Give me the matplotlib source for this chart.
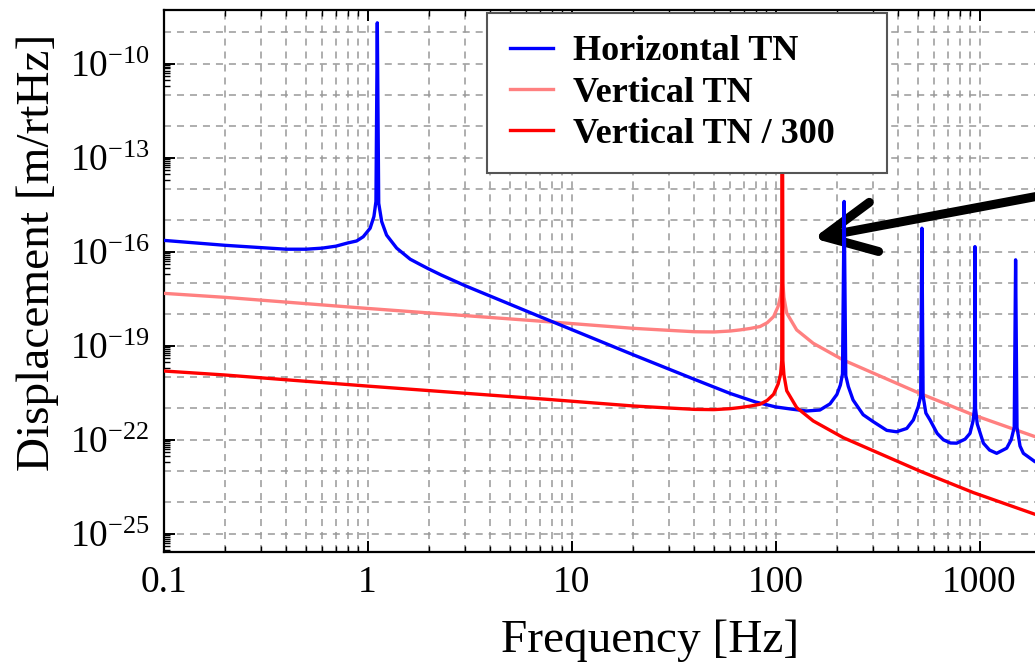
import math
import matplotlib
matplotlib.use('Agg')
import matplotlib.pyplot as plt
from matplotlib.ticker import FixedLocator, FuncFormatter, NullFormatter, LogLocator

plt.rcParams['font.family'] = ['Liberation Serif', 'DejaVu Serif']
plt.rcParams['mathtext.fontset'] = 'custom'
plt.rcParams['mathtext.rm'] = 'Liberation Serif'
plt.rcParams['mathtext.it'] = 'Liberation Serif:italic'
plt.rcParams['mathtext.bf'] = 'Liberation Serif:bold'

# ---------------- data ----------------
horiz_freq = [0.1, 0.2, 0.3, 0.4, 0.5, 0.6, 0.7, 0.8, 0.885, 0.953, 1.03, 1.075, 1.10,
              1.117, 1.135, 1.174, 1.24, 1.39, 1.62, 1.8, 2.0, 2.3, 2.6, 3.0, 5.0, 7.0, 10,
              20, 40, 60, 80, 100, 120, 142, 165, 185, 200, 208, 213, 217, 221, 227.5, 240,
              269, 301, 351, 392, 440, 474, 501, 515, 522, 529, 546, 572, 620, 665, 720, 773,
              850, 898, 930, 945, 950, 956, 975, 1045, 1120, 1214, 1359, 1430, 1480, 1503,
              1527, 1580, 1641, 1871, 2100]
horiz_tn = [2.3e-16, 1.6e-16, 1.35e-16, 1.2e-16, 1.2e-16, 1.3e-16, 1.5e-16, 1.9e-16, 2.2e-16,
            3.0e-16, 5.6e-16, 1.32e-15, 4.0e-15,
            2.0e-9, 3.5e-15, 9.1e-16, 3.4e-16, 1.3e-16, 5.75e-17, 4.0e-17, 2.8e-17, 1.8e-17,
            1.26e-17, 8.3e-18, 2.1e-18, 8.5e-19, 3.3e-19,
            5.2e-20, 8.5e-21, 3.0e-21, 1.6e-21, 1.12e-21, 9.5e-22, 8.3e-22, 8.9e-22, 1.4e-21,
            2.8e-21, 5.6e-21, 1.26e-20, 4.0e-15, 1.12e-20, 5.0e-21, 1.86e-21,
            6.3e-22, 3.8e-22, 2.0e-22, 1.8e-22, 2.3e-22, 4.3e-22, 1.15e-21, 2.5e-21, 5.6e-16,
            2.5e-21, 7.1e-22, 4.3e-22, 1.6e-22, 1.0e-22, 7.9e-23, 7.8e-23,
            1.05e-22, 1.6e-22, 4.0e-22, 1.0e-21, 1.45e-16, 1.0e-21, 3.2e-22, 7.8e-23, 4.7e-23,
            3.7e-23, 5.4e-23, 1.0e-22, 2.5e-22, 5.5e-17,
            2.5e-22, 6.3e-23, 3.7e-23, 2.0e-23, 1.6e-23]

vert_freq = [0.1, 0.2, 0.5, 1.0, 2.5, 7.5, 20, 30, 40, 50, 60, 67, 75, 84, 91, 97.9, 103,
             106, 107.3, 108, 108.7, 110, 113.5, 127, 153, 215, 511, 933, 1871, 2100]
vert_tn = [4.7e-18, 3.5e-18, 2.2e-18, 1.55e-18, 1.0e-18, 5.9e-19, 3.6e-19, 3.1e-19, 2.8e-19,
           2.75e-19, 2.95e-19, 3.2e-19, 3.55e-19, 4.1e-19, 5.4e-19, 8.5e-19, 1.8e-18,
           3.8e-18, 1.0e-17, 3.2e-9, 1.0e-17, 3.5e-18, 1.1e-18, 3.2e-19, 1.2e-19, 3.5e-20,
           3.0e-21, 6.2e-22, 1.26e-22, 1.0e-22]
scale_factor = 300
vert_tn_scaled = [v / scale_factor for v in vert_tn]

series_labels = ['Horizontal TN', 'Vertical TN', 'Vertical TN / 300']
series_colors = ['#0000ff', '#ff8080', '#ff0000']

x_tick_values = [0.1, 1, 10, 100, 1000]
x_tick_labels = ['0.1', '1', '10', '100', '1000']
y_tick_exponents = [-25, -22, -19, -16, -13, -10]
y_grid_exponents = list(range(-25, -8))

# ---------------- figure ----------------
W, H = 1035, 669
fig = plt.figure(figsize=(W / 100, H / 100), dpi=100)
ax = fig.add_axes([163.5 / W, 1 - 551.7 / H, 1020 / W, 541.7 / H])
ax.set_xscale('log')
ax.set_yscale('log')
ax.set_xlim(0.1, 1e4)
ax.set_ylim(10 ** -25.57, 10 ** -8.29)

grid_kw = dict(color='#999999', lw=1.1, linestyle=(0, (4.6, 3.9)))
ax.set_axisbelow(True)
ax.xaxis.set_minor_locator(LogLocator(base=10, subs=range(2, 10), numticks=50))
ax.grid(True, which='both', axis='x', **grid_kw)
for e in y_grid_exponents:
    ax.axhline(10.0 ** e, zorder=0.5, **grid_kw)

ax.plot(vert_freq, vert_tn, color=series_colors[1], lw=2.4, label=series_labels[1], zorder=3)
ax.plot(horiz_freq, horiz_tn, color=series_colors[0], lw=2.4, label=series_labels[0], zorder=4)
ax.plot(vert_freq, vert_tn_scaled, color=series_colors[2], lw=2.4, label=series_labels[2], zorder=5)

# ticks
ax.xaxis.set_major_locator(FixedLocator(x_tick_values))
ax.xaxis.set_major_formatter(FuncFormatter(
    lambda v, p: x_tick_labels[x_tick_values.index(v)] if v in x_tick_values else ''))
ax.xaxis.set_minor_formatter(NullFormatter())
ax.yaxis.set_major_locator(FixedLocator([10.0 ** e for e in y_tick_exponents]))
ax.yaxis.set_major_formatter(FuncFormatter(lambda v, p: r'$10^{%d}$' % round(math.log10(v))))
ax.yaxis.set_minor_locator(FixedLocator([k * 10.0 ** (e - 1) for e in y_tick_exponents
                                         for k in range(2, 10)]))
ax.yaxis.set_minor_formatter(NullFormatter())
ax.tick_params(which='both', direction='in', top=True, right=False, color='black')
ax.tick_params(which='major', length=8, width=1.4, labelsize=27, pad=10)
ax.tick_params(which='minor', length=4, width=1.0)
for s in ['left', 'bottom', 'top', 'right']:
    ax.spines[s].set_linewidth(1.6)

ax.set_xlabel('Frequency [Hz]', fontsize=34, va='baseline')
ax.xaxis.set_label_coords((650 - 163.5) / 1020, (551.7 - 652) / 541.7)
ax.set_ylabel('Displacement [m/rtHz]', fontsize=34, va='center')
ax.yaxis.set_label_coords((38 - 163.5) / 1020, (551.7 - 252) / 541.7)

handles, labels = ax.get_legend_handles_labels()
order = [labels.index(l) for l in series_labels]
lx0 = (487.3 - 163.5) / 1020
ltop = (551.7 - 12.7) / 541.7
lw_ = 400 / 1020
leg = ax.legend([handles[i] for i in order], [labels[i] for i in order],
                loc='upper left', bbox_to_anchor=(lx0, ltop - 0.01, lw_, 0.01), mode='expand',
                borderaxespad=0, frameon=True, fancybox=False, framealpha=1,
                prop={'family': 'Liberation Serif', 'weight': 'bold', 'size': 26},
                handlelength=1.2, handletextpad=0.55, labelspacing=0.22, borderpad=0.62)
leg.get_frame().set_edgecolor('#555555')
leg.get_frame().set_linewidth(1.5)
leg.set_zorder(10)

# arrow
ax.annotate('', xy=(813.3 / W, 1 - 238.3 / H), xycoords='figure fraction',
            xytext=(1100 / W, 1 - 184.5 / H), textcoords='figure fraction',
            annotation_clip=False,
            arrowprops=dict(arrowstyle='->, head_length=1.85, head_width=0.9', mutation_scale=20,
                            lw=6.5, color='black', shrinkA=0, shrinkB=0,
                            capstyle='round', joinstyle='round'))

fig.savefig('out.png', dpi=100)
